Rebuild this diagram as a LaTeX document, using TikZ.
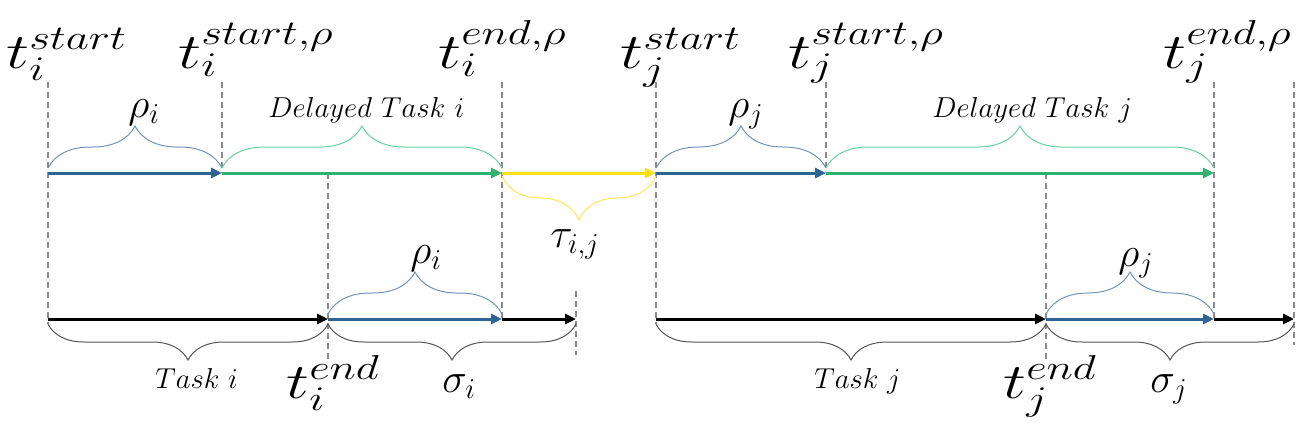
\documentclass[tikz,border=0pt]{standalone}
\usetikzlibrary{arrows.meta,decorations.pathreplacing}
\definecolor{arrblue}{HTML}{2E6494}
\definecolor{arrgreen}{HTML}{2DB36E}
\definecolor{arryellow}{HTML}{FFE014}
\definecolor{brblue}{HTML}{6F94BA}
\definecolor{brgreen}{HTML}{66D39F}
\definecolor{bryellow}{HTML}{FFE552}
\definecolor{brgray}{HTML}{555555}
\definecolor{dashgray}{HTML}{8A8A8A}
\newcommand{\wide}[1]{\scalebox{1.3}[1]{#1}}
\begin{document}
\begin{tikzpicture}[x=0.5pt,y=-0.5pt,
 seg/.style={line width=1.5pt,-{Triangle[length=5.5pt,width=5pt]}},
 guide/.style={dashgray,line width=0.6pt,dash pattern=on 3pt off 2pt},
 br/.style={decorate,decoration={brace,amplitude=#1},line width=0.5pt},
 tlab/.style={anchor=base west,inner sep=0pt,font=\fontsize{25}{30}\selectfont},
 glab/.style={anchor=base west,inner sep=0pt,font=\fontsize{22}{26}\selectfont},
 txt/.style={anchor=base west,inner sep=0pt,font=\fontsize{14.3}{17}\selectfont},
 stxt/.style={anchor=base west,inner sep=0pt,font=\fontsize{13.3}{16}\selectfont}]
\useasboundingbox (0,0) rectangle (1308,436);
% axis points
\coordinate (a0) at (48,173);  \coordinate (a1) at (222,173);
\coordinate (a2) at (502,173); \coordinate (a3) at (656,173);
\coordinate (a4) at (826,173); \coordinate (a5) at (1214,173);
\coordinate (b0) at (48,319);  \coordinate (b1) at (328,319);
\coordinate (b2) at (502,319); \coordinate (b3) at (576,319);
\coordinate (b4) at (656,319); \coordinate (b5) at (1046,319);
\coordinate (b6) at (1214,319);\coordinate (b7) at (1294,319);
% guide tops/bottoms
\coordinate (g0) at (48,82);   \coordinate (g1) at (222,82);
\coordinate (g2) at (502,82);  \coordinate (g3) at (656,82);
\coordinate (g4) at (826,82);  \coordinate (g5) at (1214,82);
\coordinate (g6) at (1294,82); \coordinate (g7) at (1294,345);
\coordinate (k0) at (48,324);  \coordinate (k4) at (656,324);
\coordinate (h1t) at (328,173); \coordinate (h1) at (328,360);
\coordinate (h5t) at (1046,173);\coordinate (h5) at (1046,360);
\coordinate (h3t) at (576,291);\coordinate (h3b) at (576,355);
% dashed guides
\draw[guide] (g0) -- (k0);
\draw[guide] (g1) -- (a1);
\draw[guide] (g2) -- (b2);
\draw[guide] (g3) -- (k4);
\draw[guide] (g4) -- (a4);
\draw[guide] (g5) -- (b6);
\draw[guide] (g6) -- (g7);
\draw[guide] (h1t) -- (h1);
\draw[guide] (h5t) -- (h5);
\draw[guide] (h3t) -- (h3b);
% top row arrows
\draw[seg,arrblue] (a0) -- (a1);
\draw[seg,arrgreen] (a1) -- (a2);
\draw[seg,arryellow] (a2) -- (a3);
\draw[seg,arrblue] (a3) -- (a4);
\draw[seg,arrgreen] (a4) -- (a5);
% bottom row arrows
\draw[seg,black] (b0) -- (b1);
\draw[seg,black] (b2) -- (b3);
\draw[seg,arrblue] (b1) -- (b2);
\draw[seg,black] (b4) -- (b5);
\draw[seg,black] (b6) -- (b7);
\draw[seg,arrblue] (b5) -- (b6);
% top row braces
\draw[br=21pt,brblue] ([yshift=2.5pt]a0) -- ([yshift=2.5pt]a1);
\draw[br=21pt,brgreen] ([yshift=2.5pt]a1) -- ([yshift=2.5pt]a2);
\draw[br=22pt,bryellow] ([yshift=-1.5pt]a3) -- ([yshift=-1.5pt]a2);
\draw[br=21pt,brblue] ([yshift=2.5pt]a3) -- ([yshift=2.5pt]a4);
\draw[br=21pt,brgreen] ([yshift=2.5pt]a4) -- ([yshift=2.5pt]a5);
% bottom row braces
\draw[br=21pt,brblue] ([yshift=2.5pt]b1) -- ([yshift=2.5pt]b2);
\draw[br=21pt,brblue] ([yshift=2.5pt]b5) -- ([yshift=2.5pt]b6);
\draw[br=18pt,brgray] ([yshift=-2.5pt]b1) -- ([yshift=-2.5pt]b0);
\draw[br=18pt,brgray] ([yshift=-2.5pt]b3) -- ([yshift=-2.5pt]b1);
\draw[br=18pt,brgray] ([yshift=-2.5pt]b5) -- ([yshift=-2.5pt]b4);
\draw[br=18pt,brgray] ([yshift=-2.5pt]b7) -- ([yshift=-2.5pt]b5);
% time labels
\node[tlab] (tis) at (6,68) {\wide{$t_i^{start}$}};
\node[tlab] (tisr) at (178,68) {\wide{$t_i^{start,\rho}$}};
\node[tlab] (tier) at (438,68) {\wide{$t_i^{end,\rho}$}};
\node[tlab] (tjs) at (620,68) {\wide{$t_j^{start}$}};
\node[tlab] (tjsr) at (788,68) {\wide{$t_j^{start,\rho}$}};
\node[tlab] (tjer) at (1163,68) {\wide{$t_j^{end,\rho}$}};
\node[tlab] (tie) at (286,398) {\wide{$t_i^{end}$}};
\node[tlab] (tje) at (1003,398) {\wide{$t_j^{end}$}};
% greek labels
\node[glab] (rhoi1) at (128,117) {$\rho_i$};
\node[glab] (rhoj1) at (728,117) {$\rho_j$};
\node[glab] (rhoi2) at (410,263) {$\rho_i$};
\node[glab] (rhoj2) at (1118,266) {$\rho_j$};
\node[glab] (tau) at (550,247) {$\tau_{i,j}$};
\node[glab] (sigi) at (442,392) {$\sigma_i$};
\node[glab] (sigj) at (1150,392) {$\sigma_j$};
% text labels
\node[txt] (dti) at (268,117) {$Delayed\ Task\ i$};
\node[txt] (dtj) at (932,117) {$Delayed\ Task\ j$};
\node[stxt] (ti) at (155,388) {$Task\ i$};
\node[stxt] (tj) at (814,388) {$Task\ j$};
\end{tikzpicture}
\end{document}
